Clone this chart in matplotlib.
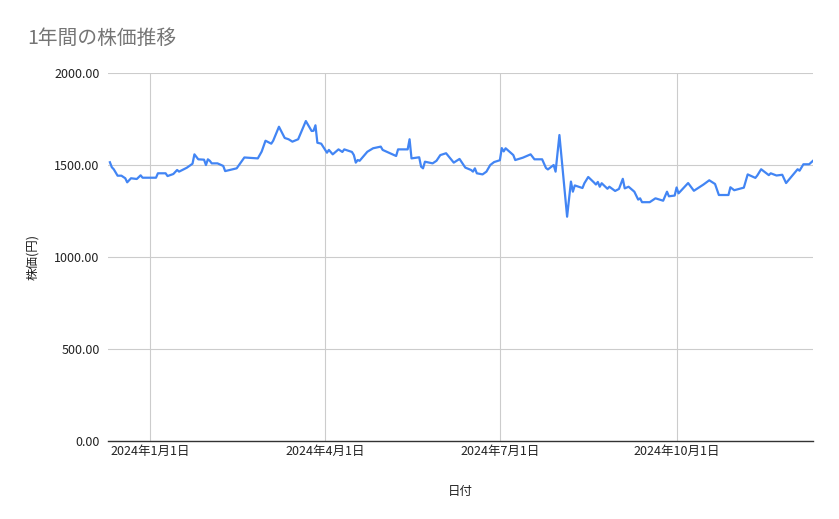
import pandas as pd
import matplotlib
matplotlib.use('Agg')
import matplotlib.pyplot as plt
import matplotlib.dates as mdates

plt.rcParams['font.family'] = ['Noto Sans CJK JP', 'DejaVu Sans']

# values
dates = ['2023-12-11', '2023-12-12', '2023-12-13', '2023-12-15', '2023-12-17', '2023-12-19',
         '2023-12-20', '2023-12-22', '2023-12-25', '2023-12-27', '2023-12-28', '2024-01-04',
         '2024-01-05', '2024-01-09', '2024-01-10', '2024-01-13', '2024-01-15', '2024-01-16',
         '2024-01-20', '2024-01-23', '2024-01-24', '2024-01-26', '2024-01-29', '2024-01-30',
         '2024-01-31', '2024-02-01', '2024-02-02', '2024-02-05', '2024-02-08', '2024-02-09',
         '2024-02-15', '2024-02-19', '2024-02-26', '2024-02-28', '2024-03-01', '2024-03-04',
         '2024-03-05', '2024-03-08', '2024-03-11', '2024-03-13', '2024-03-15', '2024-03-18',
         '2024-03-22', '2024-03-25', '2024-03-26', '2024-03-27', '2024-03-28', '2024-03-30',
         '2024-04-02', '2024-04-03', '2024-04-05', '2024-04-08', '2024-04-10', '2024-04-11',
         '2024-04-15', '2024-04-16', '2024-04-17', '2024-04-18', '2024-04-19', '2024-04-23',
         '2024-04-26', '2024-04-30', '2024-05-01', '2024-05-08', '2024-05-09', '2024-05-14',
         '2024-05-15', '2024-05-16', '2024-05-20', '2024-05-21', '2024-05-22', '2024-05-23',
         '2024-05-27', '2024-05-29', '2024-05-31', '2024-06-03', '2024-06-07', '2024-06-10',
         '2024-06-13', '2024-06-16', '2024-06-17', '2024-06-18', '2024-06-19', '2024-06-22',
         '2024-06-24', '2024-06-26', '2024-06-28', '2024-07-01', '2024-07-02', '2024-07-03',
         '2024-07-04', '2024-07-08', '2024-07-09', '2024-07-13', '2024-07-17', '2024-07-19',
         '2024-07-23', '2024-07-25', '2024-07-26', '2024-07-29', '2024-07-30', '2024-08-01',
         '2024-08-05', '2024-08-07', '2024-08-08', '2024-08-09', '2024-08-13', '2024-08-14',
         '2024-08-16', '2024-08-19', '2024-08-20', '2024-08-21', '2024-08-22', '2024-08-23',
         '2024-08-26', '2024-08-27', '2024-08-30', '2024-09-01', '2024-09-03', '2024-09-04',
         '2024-09-06', '2024-09-09', '2024-09-11', '2024-09-12', '2024-09-13', '2024-09-17',
         '2024-09-20', '2024-09-24', '2024-09-26', '2024-09-27', '2024-09-30', '2024-10-01',
         '2024-10-02', '2024-10-07', '2024-10-10', '2024-10-15', '2024-10-18', '2024-10-21',
         '2024-10-23', '2024-10-28', '2024-10-29', '2024-10-31', '2024-11-05', '2024-11-07',
         '2024-11-11', '2024-11-12', '2024-11-14', '2024-11-18', '2024-11-19', '2024-11-22',
         '2024-11-25', '2024-11-27', '2024-12-03', '2024-12-04', '2024-12-06', '2024-12-09',
         '2024-12-11']
prices = [1515, 1488, 1477, 1442, 1442, 1428,
          1406, 1428, 1424, 1444, 1431, 1431,
          1455, 1455, 1440, 1451, 1473, 1464,
          1485, 1507, 1558, 1531, 1529, 1500,
          1531, 1523, 1509, 1509, 1495, 1467,
          1482, 1541, 1536, 1573, 1632, 1616,
          1632, 1708, 1647, 1640, 1627, 1640,
          1739, 1685, 1686, 1716, 1621, 1616,
          1567, 1582, 1558, 1585, 1571, 1585,
          1571, 1554, 1513, 1527, 1523, 1572,
          1591, 1600, 1582, 1549, 1585, 1585,
          1640, 1536, 1542, 1491, 1482, 1518,
          1509, 1523, 1554, 1564, 1513, 1533,
          1486, 1473, 1464, 1482, 1455, 1449,
          1464, 1500, 1516, 1526, 1592, 1574,
          1591, 1554, 1527, 1540, 1558, 1531,
          1531, 1484, 1476, 1500, 1464, 1663,
          1219, 1410, 1355, 1389, 1375, 1401,
          1435, 1405, 1394, 1408, 1382, 1401,
          1371, 1382, 1359, 1370, 1425, 1373,
          1382, 1355, 1312, 1319, 1298, 1298,
          1319, 1306, 1355, 1330, 1334, 1378,
          1346, 1402, 1360, 1394, 1417, 1397,
          1337, 1337, 1379, 1363, 1377, 1449,
          1430, 1443, 1477, 1445, 1455, 1443,
          1447, 1402, 1477, 1469, 1504, 1504,
          1523]
yticks = [0, 500, 1000, 1500, 2000]
xticks = ['2024-01-01', '2024-04-01', '2024-07-01', '2024-10-01']

df = pd.DataFrame({'date': pd.to_datetime(dates), 'price': prices})

fig = plt.figure(figsize=(8.39, 5.19), dpi=100)
ax = fig.add_axes([0.1287, 0.1503, 0.8403, 0.709])
ax.plot(df['date'], df['price'], color='#4285F4', linewidth=1.6)

ax.set_ylim(0, 2000)
ax.set_yticks(yticks)
ax.set_yticklabels([f'{v:.2f}' for v in yticks])
ax.set_xlim(pd.Timestamp('2023-12-10'), df['date'].iloc[-1])
ax.set_xticks(pd.to_datetime(xticks))
ax.xaxis.set_major_formatter(mdates.DateFormatter('%Y年%-m月%-d日'))

ax.grid(True, color='#cccccc', linewidth=0.8)
ax.set_axisbelow(True)
for s in ['top', 'right', 'left']:
    ax.spines[s].set_visible(False)
ax.spines['bottom'].set_color('#333333')
ax.spines['bottom'].set_linewidth(1.0)
ax.tick_params(length=0, labelsize=9, colors='#222222')
ax.tick_params(axis='y', pad=6)
ax.tick_params(axis='x', pad=3)

ax.set_xlabel('日付', fontsize=9, color='#222222', labelpad=19)
ax.set_ylabel('株価(円)', fontsize=9, color='#222222', labelpad=11)
fig.text(0.033, 0.925, '1年間の株価推移', fontsize=14.2, color='#757575', va='center')

fig.savefig('out.png', dpi=100)
